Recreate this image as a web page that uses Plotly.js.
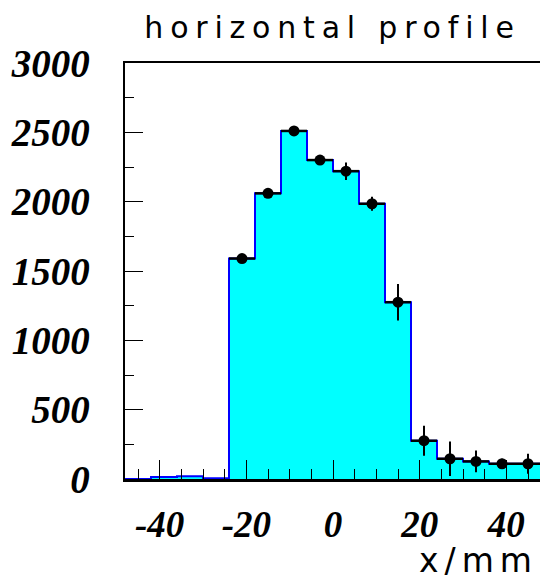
<!DOCTYPE html>
<html>
<head>
<meta charset="utf-8">
<script src="https://cdn.plot.ly/plotly-3.0.1.min.js"></script>
<style>
  html, body { margin: 0; padding: 0; background: #fff; }
  #chart { width: 540px; height: 581px; }
  .gtitle { letter-spacing: 6.8px; }
  .annotation-text { letter-spacing: 6px; }
  .xtick text, .ytick text { font-style: italic !important; }
</style>
</head>
<body>
<div id="chart"></div>
<script>
// Horizontal beam profile: counts per 6 mm bin
const binCenters = [-45, -39, -33, -27, -21, -15, -9, -3, 3, 9, 15, 21, 27, 33, 39, 45];
const counts     = [0, 15, 20, 5, 1590, 2060, 2510, 2300, 2220, 1985, 1275, 276, 146, 127, 110, 110];
// statistical errors (null where no measured point is drawn)
const errors     = [null, null, null, null, 30, 30, 30, 30, 63, 50, 132, 108, 124, 79, 36, 72];
const xTickVals  = [-40, -20, 0, 20, 40];
const yTickVals  = [0, 500, 1000, 1500, 2000, 2500, 3000];

const binWidth = 6;

// step outline of the histogram, built from the bin edges
const stepX = binCenters.map(c => c - binWidth / 2);
stepX.push(binCenters[binCenters.length - 1] + binWidth / 2);
const stepY = counts.slice();
stepY.push(counts[counts.length - 1]);

const histTrace = {
  type: 'scatter',
  mode: 'lines',
  x: stepX,
  y: stepY,
  line: { shape: 'hv', color: '#0000ff', width: 2 },
  fill: 'tozeroy',
  fillcolor: '#00ffff',
  hoverinfo: 'skip'
};

const pointTrace = {
  type: 'scatter',
  mode: 'markers',
  x: binCenters,
  y: counts.map((v, i) => errors[i] === null ? null : v),
  marker: { color: '#000', size: 11, symbol: 'circle' },
  error_y: { type: 'data', array: errors.map(e => e === null ? 0 : e), color: '#000', thickness: 2, width: 0 },
  error_x: { type: 'constant', value: binWidth / 2, color: '#000', thickness: 2.5, width: 0 }
};

const serif = '"Liberation Serif", "Times New Roman", serif';

const layout = {
  width: 540,
  height: 581,
  margin: { l: 125, r: 0, t: 63, b: 102 },
  paper_bgcolor: '#fff',
  plot_bgcolor: '#fff',
  showlegend: false,
  title: {
    text: 'horizontal profile',
    font: { family: '"DejaVu Sans", sans-serif', size: 30, color: '#000' },
    xref: 'paper', x: 0.5, xanchor: 'center',
    yref: 'container', y: 0.952, yanchor: 'middle'
  },
  xaxis: {
    range: [-48, 47.77],
    showgrid: false, zeroline: false,
    showline: true, linecolor: '#000', linewidth: 2.5, mirror: true,
    ticks: 'inside', ticklen: 19, tickwidth: 1, tickcolor: '#000',
    tickmode: 'array', tickvals: xTickVals, ticktext: xTickVals.map(String),
    minor: { dtick: 5, tick0: 0, ticks: 'inside', ticklen: 10, tickwidth: 1, tickcolor: '#000', showgrid: false },
    tickfont: { family: serif, size: 37, color: '#000', weight: 'bold', style: 'italic' },
    ticklabelstandoff: 11
  },
  yaxis: {
    range: [0, 3000],
    showgrid: false, zeroline: false,
    showline: true, linecolor: '#000', linewidth: 2.5, mirror: false,
    ticks: 'inside', ticklen: 18, tickwidth: 1, tickcolor: '#000',
    tickmode: 'array', tickvals: yTickVals, ticktext: yTickVals.map(String),
    minor: { dtick: 250, tick0: 0, ticks: 'inside', ticklen: 9, tickwidth: 1, tickcolor: '#000', showgrid: false },
    tickfont: { family: serif, size: 39, color: '#000', weight: 'bold', style: 'italic' },
    ticklabelstandoff: 25
  },
  annotations: [{
    text: 'x/mm',
    xref: 'paper', x: 1, xanchor: 'right', xshift: 0,
    yref: 'paper', y: -0.196, yanchor: 'middle',
    showarrow: false,
    font: { family: '"DejaVu Sans", sans-serif', size: 33, color: '#000' }
  }]
};

Plotly.newPlot('chart', [histTrace, pointTrace], layout, { staticPlot: true, displayModeBar: false });
</script>
</body>
</html>
